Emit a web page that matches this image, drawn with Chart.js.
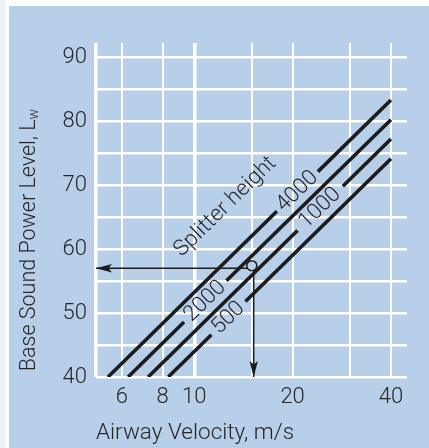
<!DOCTYPE html>
<html>
<head>
<meta charset="utf-8">
<title>Base Sound Power Level vs Airway Velocity</title>
<script src="https://cdn.jsdelivr.net/npm/chart.js@4.4.1/dist/chart.umd.min.js"></script>
<style>
  html, body { margin: 0; padding: 0; background: #fff; }
  canvas { display: block; }
</style>
</head>
<body>
<canvas id="soundChart" width="429" height="448"></canvas>
<script>
// axis ticks
const velocityTicks = [5, 6, 8, 10, 15, 20, 30, 40];
const velocityLabels = [6, 8, 10, 20, 40];
const levelTicks = [40, 45, 50, 55, 60, 65, 70, 75, 80, 85, 90];
const levelLabels = [40, 50, 60, 70, 80, 90];

// splitter height lines; the null point leaves the gap where the label sits
const splitterNames = ['4000', '2000', '1000', '500'];
const line4000 = [{x: 5.44, y: 40}, {x: 17.9, y: 65.9}, {x: 20.7, y: null}, {x: 23.9, y: 72.1}, {x: 40, y: 83.3}];
const line2000 = [{x: 6.27, y: 40}, {x: 9.3, y: 48.6}, {x: 10.8, y: null}, {x: 12.54, y: 55.05}, {x: 40, y: 80.2}];
const line1000 = [{x: 7.22, y: 40}, {x: 20.7, y: 62.9}, {x: 24.3, y: null}, {x: 28.5, y: 69.8}, {x: 40, y: 77.2}];
const line500 = [{x: 8.32, y: 40}, {x: 11.28, y: 46.6}, {x: 12.7, y: null}, {x: 14.34, y: 51.8}, {x: 40, y: 74.1}];
const splitterLines = [line4000, line2000, line1000, line500];

// worked example: 15 m/s read across to about 57 dB
const readout = [{x: 15, y: 57.4}];
const readoutLeft = [{x: 14.9, y: 57}, {x: 5, y: 57}];
const readoutDown = [{x: 15.2, y: 57}, {x: 15.2, y: 40}];
const splitterTitle = {text: 'Splitter height', x: 12.45, y: 66.6};

const panelColor = '#b8cfe9';
const inkColor = '#1c1c1c';
const textColor = '#262626';
const fontFamily = "Roboto, 'Liberation Sans', Arial, sans-serif";
const fontWeight = '300';

const backgroundPlugin = {
    id: 'panel',
    beforeDraw(chart) {
        const ctx = chart.ctx;
        ctx.save();
        ctx.fillStyle = '#ffffff';
        ctx.fillRect(0, 0, chart.width, chart.height);
        ctx.fillStyle = '#eef3f9';
        ctx.fillRect(0, 0, 6, chart.height);
        ctx.fillStyle = panelColor;
        ctx.fillRect(9, 6, chart.width - 9, chart.height - 6);
        ctx.restore();
    }
};

function drawArrowHead(ctx, from, to) {
    const ang = Math.atan2(to.y - from.y, to.x - from.x);
    ctx.save();
    ctx.translate(to.x, to.y);
    ctx.rotate(ang);
    ctx.beginPath();
    ctx.moveTo(0, 0);
    ctx.lineTo(-16, -4.2);
    ctx.lineTo(-12.5, 0);
    ctx.lineTo(-16, 4.2);
    ctx.closePath();
    ctx.fillStyle = inkColor;
    ctx.fill();
    ctx.restore();
}

function drawRotated(ctx, text, x, y, angle) {
    ctx.save();
    ctx.translate(x, y);
    ctx.rotate(angle);
    ctx.fillText(text, 0, 0);
    ctx.restore();
}

const font = (size) => fontWeight + ' ' + size + 'px ' + fontFamily;

const annotationPlugin = {
    id: 'annotations',
    afterDatasetsDraw(chart) {
        const ctx = chart.ctx;
        const xs = chart.scales.x;
        const ys = chart.scales.y;
        const px = p => ({x: xs.getPixelForValue(p.x), y: ys.getPixelForValue(p.y)});

        // arrow heads at the end of the readout lines
        [readoutLeft, readoutDown].forEach(arr => {
            drawArrowHead(ctx, px(arr[arr.length - 2]), px(arr[arr.length - 1]));
        });

        ctx.save();
        ctx.fillStyle = textColor;
        ctx.font = font(22);
        ctx.textAlign = 'center';
        ctx.textBaseline = 'middle';

        let angle = 0;
        splitterLines.forEach((line, i) => {
            const a = px(line[1]);
            const b = px(line[3]);
            angle = Math.atan2(b.y - a.y, b.x - a.x);
            drawRotated(ctx, splitterNames[i], (a.x + b.x) / 2, (a.y + b.y) / 2, angle);
        });
        const st = px(splitterTitle);
        drawRotated(ctx, splitterTitle.text, st.x, st.y, angle);

        // x axis title, starting at the left edge of the plot
        ctx.font = font(22.5);
        ctx.textAlign = 'left';
        ctx.textBaseline = 'alphabetic';
        ctx.fillText('Airway Velocity, m/s', chart.chartArea.left, 439);

        // y axis title with subscript w
        const main = 'Base Sound Power Level, L';
        ctx.font = font(21.5);
        const w1 = ctx.measureText(main).width;
        ctx.font = font(14);
        const w2 = ctx.measureText('w').width;
        ctx.translate(35, 240);
        ctx.rotate(-Math.PI / 2);
        ctx.font = font(21.5);
        ctx.fillText(main, -(w1 + w2) / 2, 0);
        ctx.font = font(14);
        ctx.fillText('w', -(w1 + w2) / 2 + w1, 3);
        ctx.restore();
    }
};

const splitterDataset = (data) => ({
    data: data,
    borderColor: inkColor,
    borderWidth: 3.6,
    pointRadius: 0,
    spanGaps: false,
    showLine: true
});

const arrowDataset = (data) => ({
    data: data,
    borderColor: inkColor,
    borderWidth: 1.5,
    pointRadius: 0,
    showLine: true
});

new Chart(document.getElementById('soundChart'), {
    type: 'scatter',
    data: {
        datasets: [
            {
                data: readout,
                showLine: false,
                pointRadius: 5,
                pointBorderWidth: 1.5,
                pointBorderColor: inkColor,
                pointBackgroundColor: panelColor,
                order: -1
            },
            arrowDataset(readoutLeft),
            arrowDataset(readoutDown),
            ...splitterLines.map(splitterDataset)
        ]
    },
    options: {
        responsive: false,
        animation: false,
        events: [],
        layout: {
            padding: {top: 43, right: 22, bottom: 0, left: 0}
        },
        plugins: {
            legend: {display: false},
            tooltip: {enabled: false}
        },
        scales: {
            x: {
                type: 'logarithmic',
                min: 5,
                max: 44.8,
                afterBuildTicks: (axis) => {
                    axis.ticks = velocityTicks.map(v => ({value: v}));
                },
                afterFit: (axis) => {
                    axis.height = 71;
                },
                ticks: {
                    autoSkip: false,
                    maxRotation: 0,
                    padding: 7,
                    color: textColor,
                    font: {family: fontFamily, size: 22, weight: fontWeight},
                    callback: (v) => velocityLabels.includes(v) ? String(v) : ''
                },
                grid: {
                    color: '#ffffff',
                    drawTicks: false,
                    lineWidth: (c) => (c.tick && (c.tick.value === 5 || c.tick.value === 10)) ? 3.5 : 2
                },
                border: {display: false}
            },
            y: {
                type: 'linear',
                min: 40,
                max: 92.2,
                afterBuildTicks: (axis) => {
                    axis.ticks = levelTicks.map(v => ({value: v}));
                },
                afterFit: (axis) => {
                    axis.width = 96;
                },
                ticks: {
                    padding: 9,
                    color: textColor,
                    font: {family: fontFamily, size: 22, weight: fontWeight},
                    callback: (v) => levelLabels.includes(v) ? String(v) : ''
                },
                grid: {
                    color: '#ffffff',
                    drawTicks: false,
                    lineWidth: 2.5
                },
                border: {display: false}
            }
        }
    },
    plugins: [backgroundPlugin, annotationPlugin]
});
</script>
</body>
</html>
